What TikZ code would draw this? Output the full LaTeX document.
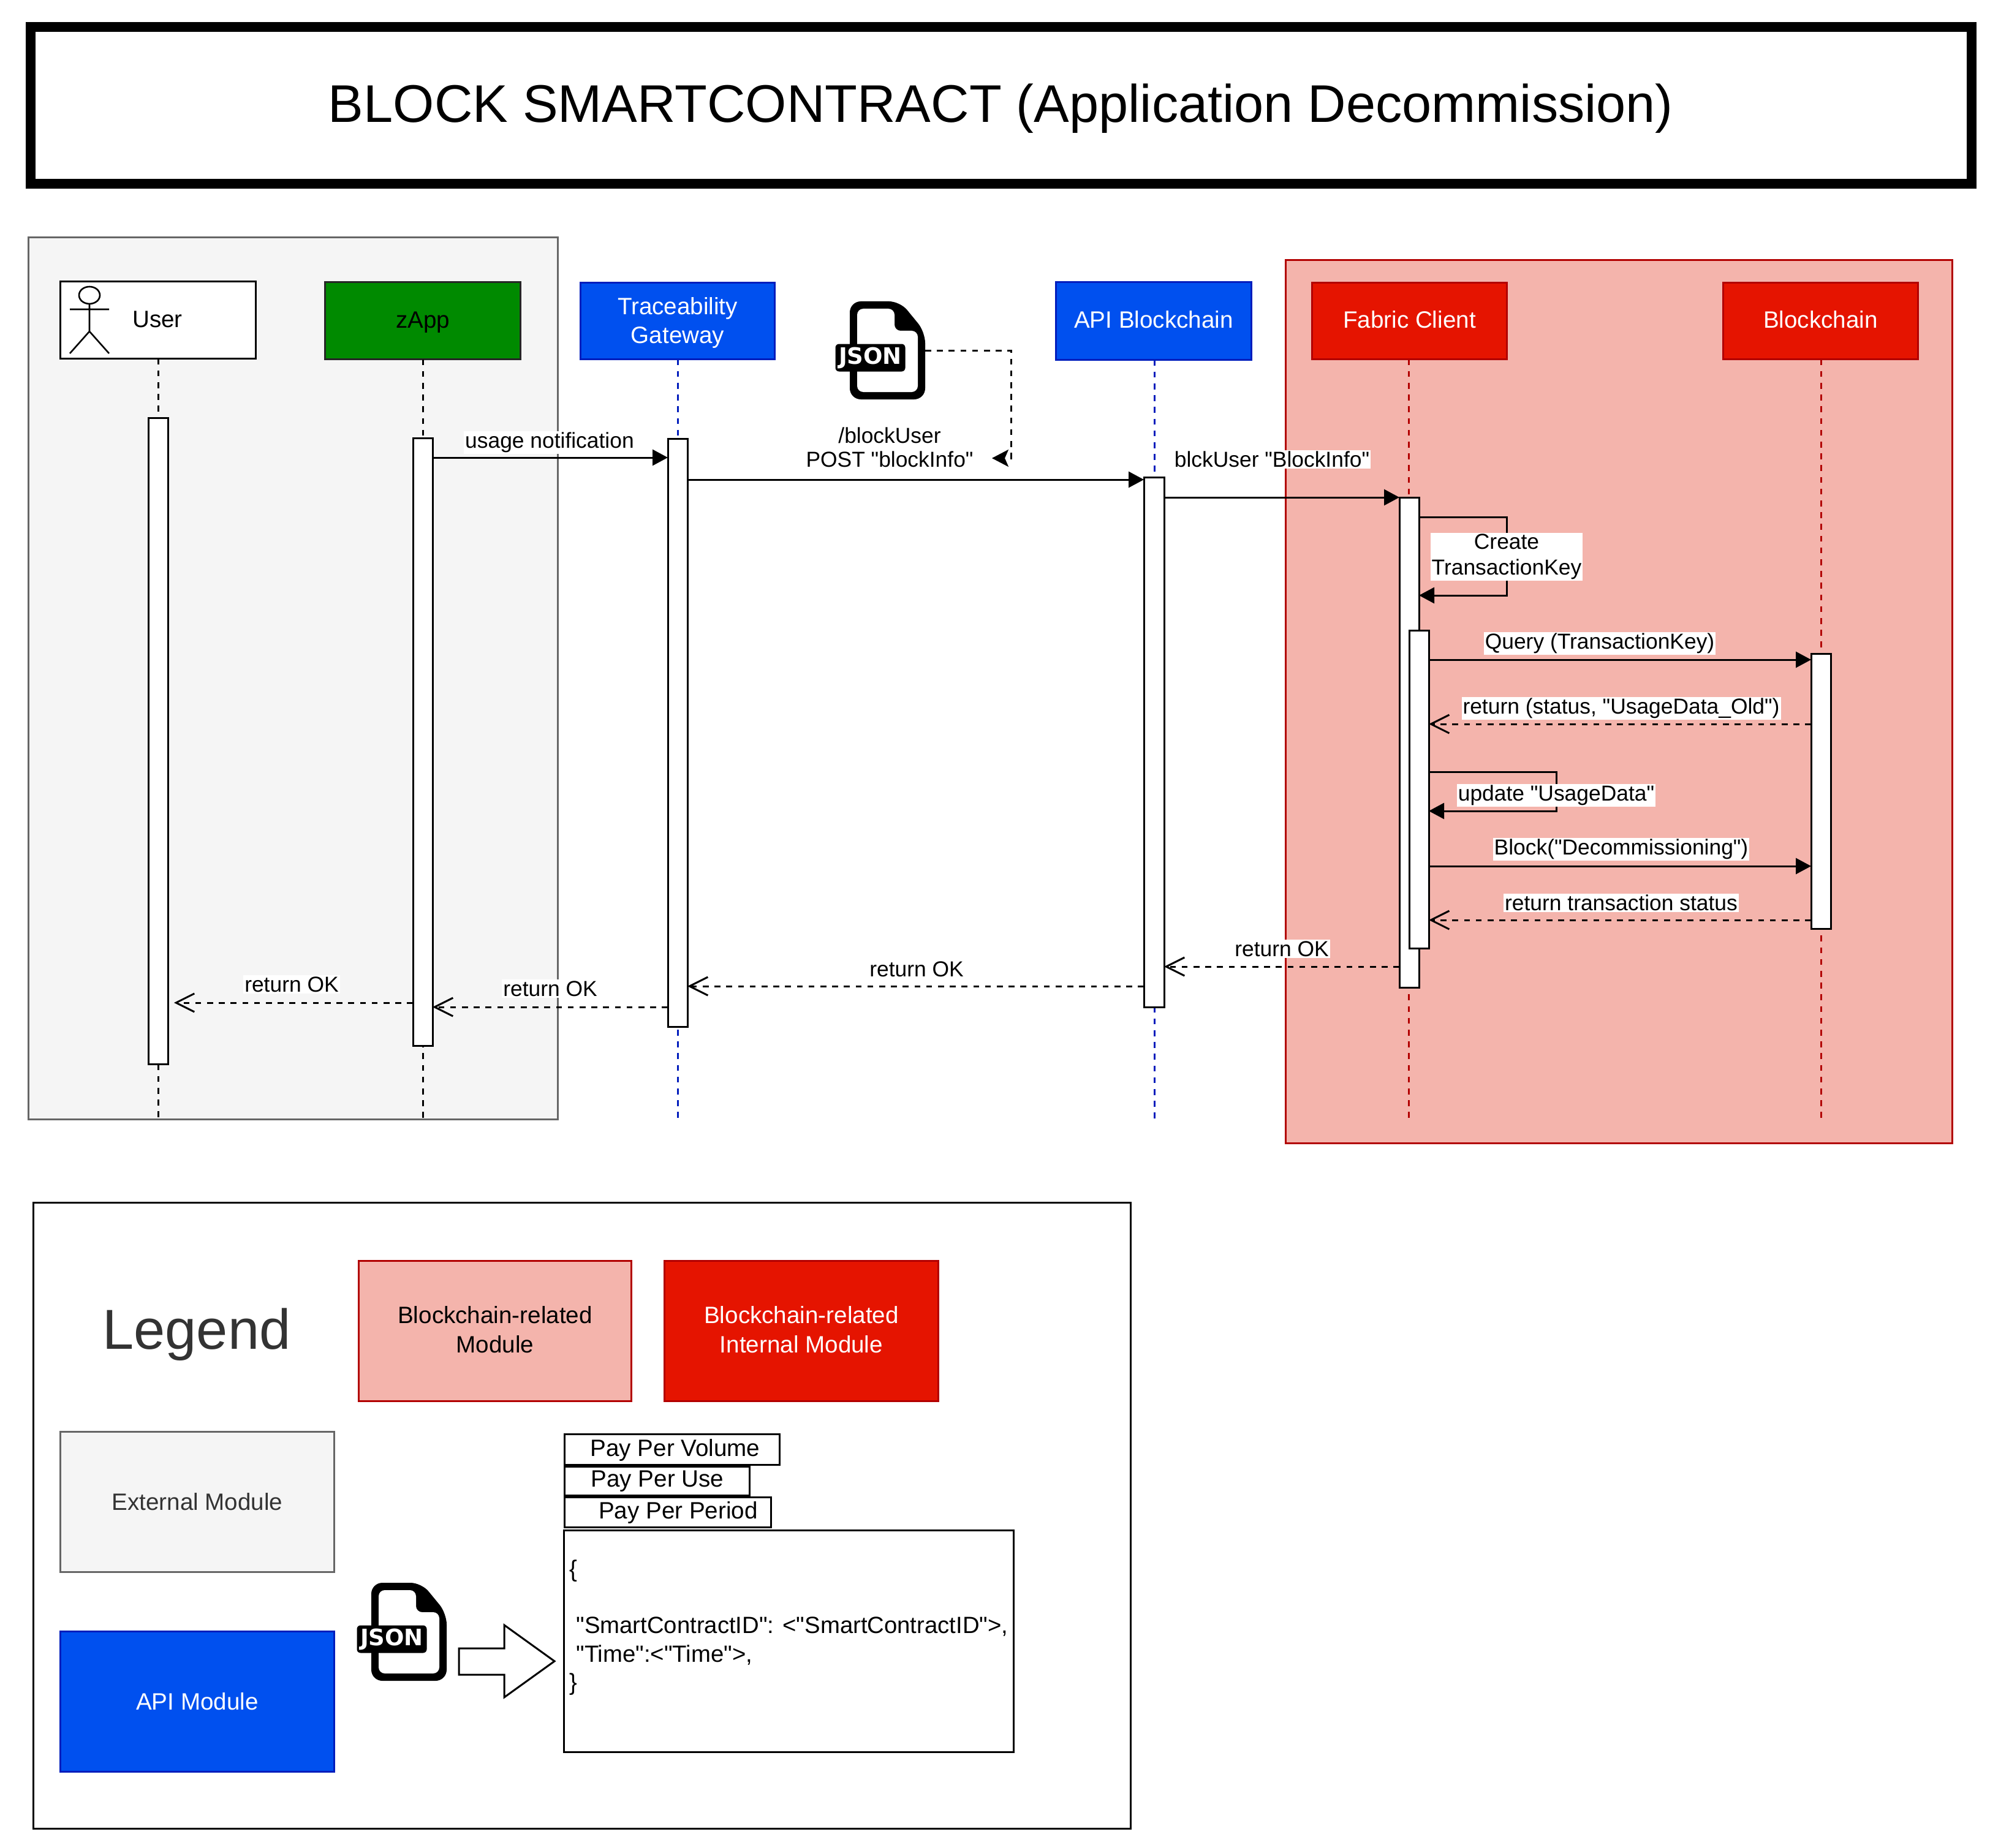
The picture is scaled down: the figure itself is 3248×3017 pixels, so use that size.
\documentclass[tikz,border=0pt]{standalone}
\usepackage{fontspec}
\setmainfont[Ligatures=TeXOff]{Liberation Sans}
\newfontfamily\jsonfont{DejaVu Sans}
\usetikzlibrary{arrows.meta}
\definecolor{bluefill}{HTML}{0050EF}
\definecolor{bluestroke}{HTML}{001DBC}
\definecolor{redfill}{HTML}{E51400}
\definecolor{redstroke}{HTML}{B20000}
\definecolor{pinkfill}{HTML}{F4B4AC}
\definecolor{greenfill}{HTML}{008A00}
\definecolor{greyfill}{HTML}{F5F5F5}
\definecolor{greystroke}{HTML}{666666}
\definecolor{greytext}{HTML}{333333}
\newcommand{\lr}{\rule[-.24em]{0pt}{1.09em}}
\newcommand{\lrb}{\rule[-.24em]{0pt}{1.19em}}
\newcommand{\ltop}[1]{\rule{0pt}{#1}}
\newcommand{\ins}{3}
\newcommand{\bx}[7]{\node[#1,inner sep=0pt,outer sep=0pt,minimum width={(#5-#3-\ins)*0.5pt},minimum height={(#6-#4-\ins)*0.5pt},align=center] (#2) at ({(#3+#5)/2},{(#4+#6)/2}) {#7};}
\newcommand{\jsonicon}[3]{%
  \begin{scope}[shift={(#2,#3)}]
    \fill[black,rounded corners=9pt] (0,0) -- (82,0) -- (123,50) -- (123,160) -- (0,160) -- cycle;
    \fill[white,rounded corners=5pt] (12,12) -- (73,12) -- (73,48) -- (111,48) -- (111,148) -- (12,148) -- cycle;
    \bx{jsonlabel}{#1}{-25}{68}{92}{116}{\raisebox{-2pt}{JSON}}
  \end{scope}}
\tikzset{
  x=0.5pt,y=-0.5pt,
  lw/.style={line width=1.5pt},
  boxfont/.style={font=\fontsize{19.3}{23.6}\selectfont},
  msgfont/.style={font=\fontsize{17.7}{21.25}\selectfont},
  plainbox/.style={draw=black,fill=white,lw,boxfont},
  greenbox/.style={draw=black!85,fill=greenfill,lw,boxfont,text=black},
  bluebox/.style={draw=bluestroke,fill=bluefill,lw,boxfont,text=white},
  redbox/.style={draw=redstroke,fill=redfill,lw,boxfont,text=white},
  pinkbox/.style={draw=redstroke,fill=pinkfill,lw,boxfont,text=black},
  greybox/.style={draw=greystroke,fill=greyfill,lw,boxfont,text=greytext},
  bar/.style={draw=black,fill=white,lw},
  life/.style={lw,dash pattern=on 4.8pt off 4.8pt},
  msg/.style={lw,draw=black,-{Triangle[length=12.5pt,width=13pt]}},
  ret/.style={lw,draw=black,dash pattern=on 4.8pt off 4.8pt,-{Straight Barb[length=15pt,width=15pt,line width=1.5pt]}},
  lab/.style={msgfont,fill=white,inner sep=1pt,align=center,text=black},
  jsonlabel/.style={fill=black,rounded corners=3pt,text=white,font=\jsonfont\bfseries\fontsize{18.5}{20}\selectfont},
}
\begin{document}
\begin{tikzpicture}
\useasboundingbox (0,0) rectangle (3248,3017);
\fill[white] (0,0) rectangle (3248,3017);

% title
\bx{draw=black,line width=8pt,fill=white,font=\fontsize{43.25}{50}\selectfont}{title}{48}{43}{3219}{302}{\ltop{36pt}BLOCK SMARTCONTRACT (Application Decommission)}

% panels
\renewcommand{\ins}{0}
\bx{draw=greystroke,fill=greyfill,lw}{extpanel}{46}{388}{910}{1827}{}
\bx{draw=redstroke,fill=pinkfill,lw}{redpanel}{2098}{425}{3186}{1866}{}
\renewcommand{\ins}{3}

% participants
\bx{plainbox}{user}{97}{458}{419}{587}{}
\node[boxfont] (usertext) at (257,521) {User};
\draw[line width=1.3pt] (146,482) ellipse [x radius=17,y radius=14];
\draw[line width=1.3pt] (146,496) -- (146,541) (114,505) -- (178,505) (114,577) -- (146,541) -- (178,577);
\bx{greenbox}{zapp}{529}{459}{851}{588}{zApp\lr}
\bx{bluebox}{trace}{946}{460}{1266}{588}{\ltop{.93em}Traceability\\Gateway\lr}
\bx{bluebox}{api}{1722}{459}{2044}{589}{API Blockchain\lr}
\bx{redbox}{fabric}{2140}{460}{2461}{588}{Fabric Client\lr}
\bx{redbox}{chain}{2811}{460}{3132}{588}{Blockchain\lr}

% lifeline ends
\coordinate (userend) at (258,1827);
\coordinate (zappend) at (690,1827);
\coordinate (traceend) at (1106,1827);
\coordinate (apiend) at (1884,1827);
\coordinate (fabricend) at (2299,1827);
\coordinate (chainend) at (2972,1827);
\draw[life,draw=black] (user.south -| userend) -- (userend);
\draw[life,draw=black] (zapp.south -| zappend) -- (zappend);
\draw[life,draw=bluestroke] (trace.south -| traceend) -- (traceend);
\draw[life,draw=bluestroke] (api.south -| apiend) -- (apiend);
\draw[life,draw=redstroke] (fabric.south -| fabricend) -- (fabricend);
\draw[life,draw=redstroke] (chain.south -| chainend) -- (chainend);

% activation bars
\renewcommand{\ins}{0}
\bx{bar}{ubar}{242}{682}{274}{1737}{}
\bx{bar}{zbar}{674}{715}{706}{1707}{}
\bx{bar}{tbar}{1090}{716}{1122}{1676}{}
\bx{bar}{abar}{1867}{779}{1900}{1644}{}
\bx{bar}{fbar}{2284}{812}{2316}{1612}{}
\bx{bar}{gbar}{2300}{1029}{2332}{1548}{}
\bx{bar}{cbar}{2956}{1067}{2988}{1516}{}
\renewcommand{\ins}{3}

% json icon and its dashed link
\jsonicon{jsonone}{1387}{492}
\coordinate (jsonout) at (1510,572);
\coordinate (jsonbend) at (1650,572);
\coordinate (jsonfoot) at (1650,748);
\coordinate (jsontip) at (1619,748);
\draw[life,draw=black,-{Stealth[length=13.5pt,width=14pt,inset=3pt]}] (jsonout) -- (jsonbend) -- (jsonfoot) -- (jsontip);
\node[lab,font=\fontsize{17.7}{19.6}\selectfont] (postlabel) at (1452,730) {/blockUser\\POST "blockInfo"};

% messages
\draw[msg] (zbar.east |- 0,747) -- (tbar.west |- 0,747);
\node[lab] (l1) at (897,722) {usage notification};
\draw[msg] (tbar.east |- 0,783) -- (abar.west |- 0,783);
\draw[msg] (abar.east |- 0,812) -- (fbar.west |- 0,812);
\node[lab] (l2) at (2076,750) {blckUser "BlockInfo"};

\coordinate (selfa) at (2459,844);
\coordinate (selfb) at (2459,972);
\draw[msg] (fbar.east |- selfa) -- (selfa) -- (selfb) -- (fbar.east |- selfb);
\node[lab] (l3) at (2459,909) {Create\\TransactionKey};

\draw[msg] (gbar.east |- 0,1077) -- (cbar.west |- 0,1077);
\node[lab] (l4) at (2611,1050) {Query (TransactionKey)};
\draw[ret] (cbar.west |- 0,1182) -- (gbar.east |- 0,1182);
\node[lab] (l5) at (2646,1156) {return (status, "UsageData\_Old")};

\coordinate (selfc) at (2540,1260);
\coordinate (selfd) at (2540,1324);
\draw[msg] (gbar.east |- selfc) -- (selfc) -- (selfd) -- (gbar.east |- selfd);
\node[lab] (l6) at (2540,1298) {update "UsageData"};

\draw[msg] (gbar.east |- 0,1414) -- (cbar.west |- 0,1414);
\node[lab] (l7) at (2646,1386) {Block("Decommissioning")};
\draw[ret] (cbar.west |- 0,1502) -- (gbar.east |- 0,1502);
\node[lab] (l8) at (2646,1474) {return transaction status};

\draw[ret] (fbar.west |- 0,1578) -- (abar.east |- 0,1578);
\node[lab] (l9) at (2092,1549) {return OK};
\draw[ret] (abar.west |- 0,1610) -- (tbar.east |- 0,1610);
\node[lab] (l10) at (1496,1582) {return OK};
\draw[ret] (tbar.west |- 0,1644) -- (zbar.east |- 0,1644);
\node[lab] (l11) at (898,1614) {return OK};
\coordinate (usertip) at (284,1637);
\draw[ret] (zbar.west |- 0,1637) -- (usertip);
\node[lab] (l12) at (476,1607) {return OK};

% legend
\renewcommand{\ins}{0}
\bx{draw=black,fill=white,lw}{legend}{54}{1963}{1845}{2985}{}
\renewcommand{\ins}{3}
\node[font=\fontsize{46}{52}\selectfont,text=greytext] (legendtitle) at (321,2179) {Legend};
\bx{pinkbox}{lgpink}{584}{2057}{1032}{2289}{\ltop{.83em}Blockchain-related\\Module\lr}
\bx{redbox}{lgred}{1083}{2057}{1533}{2289}{\ltop{.83em}Blockchain-related\\Internal Module\lr}
\bx{greybox}{lgext}{97}{2336}{547}{2568}{External Module\lrb}
\bx{bluebox}{lgapi}{97}{2662}{547}{2894}{API Module\lrb}

\jsonicon{jsontwo}{606}{2584}
\draw[lw,fill=white,line join=miter] (749,2691) -- (823,2691) -- (823,2653) -- (905,2712) -- (823,2771) -- (823,2734) -- (749,2734) -- cycle;

\bx{plainbox}{payvol}{920}{2340}{1274}{2393}{}
\node[boxfont] (payvoltext) at (1102,2367) {Pay Per Volume};
\bx{plainbox}{payuse}{920}{2393}{1225}{2443}{}
\node[boxfont] (payusetext) at (1073,2418) {Pay Per Use};
\bx{plainbox}{payper}{920}{2443}{1260}{2495}{}
\node[boxfont] (paypertext) at (1107,2469) {Pay Per Period};
\renewcommand{\ins}{0}
\bx{plainbox}{jsonbody}{920}{2498}{1654}{2860}{}
\node[font=\fontsize{19.15}{23.2}\selectfont,align=left,anchor=west,inner sep=0pt] (jsontext) at (929,2657) {\{\\\mbox{}\\\hspace*{5.5pt}"SmartContractID": <"SmartContractID">,\\\hspace*{5.5pt}"Time":<"Time">,\\\}};
\end{tikzpicture}
\end{document}
